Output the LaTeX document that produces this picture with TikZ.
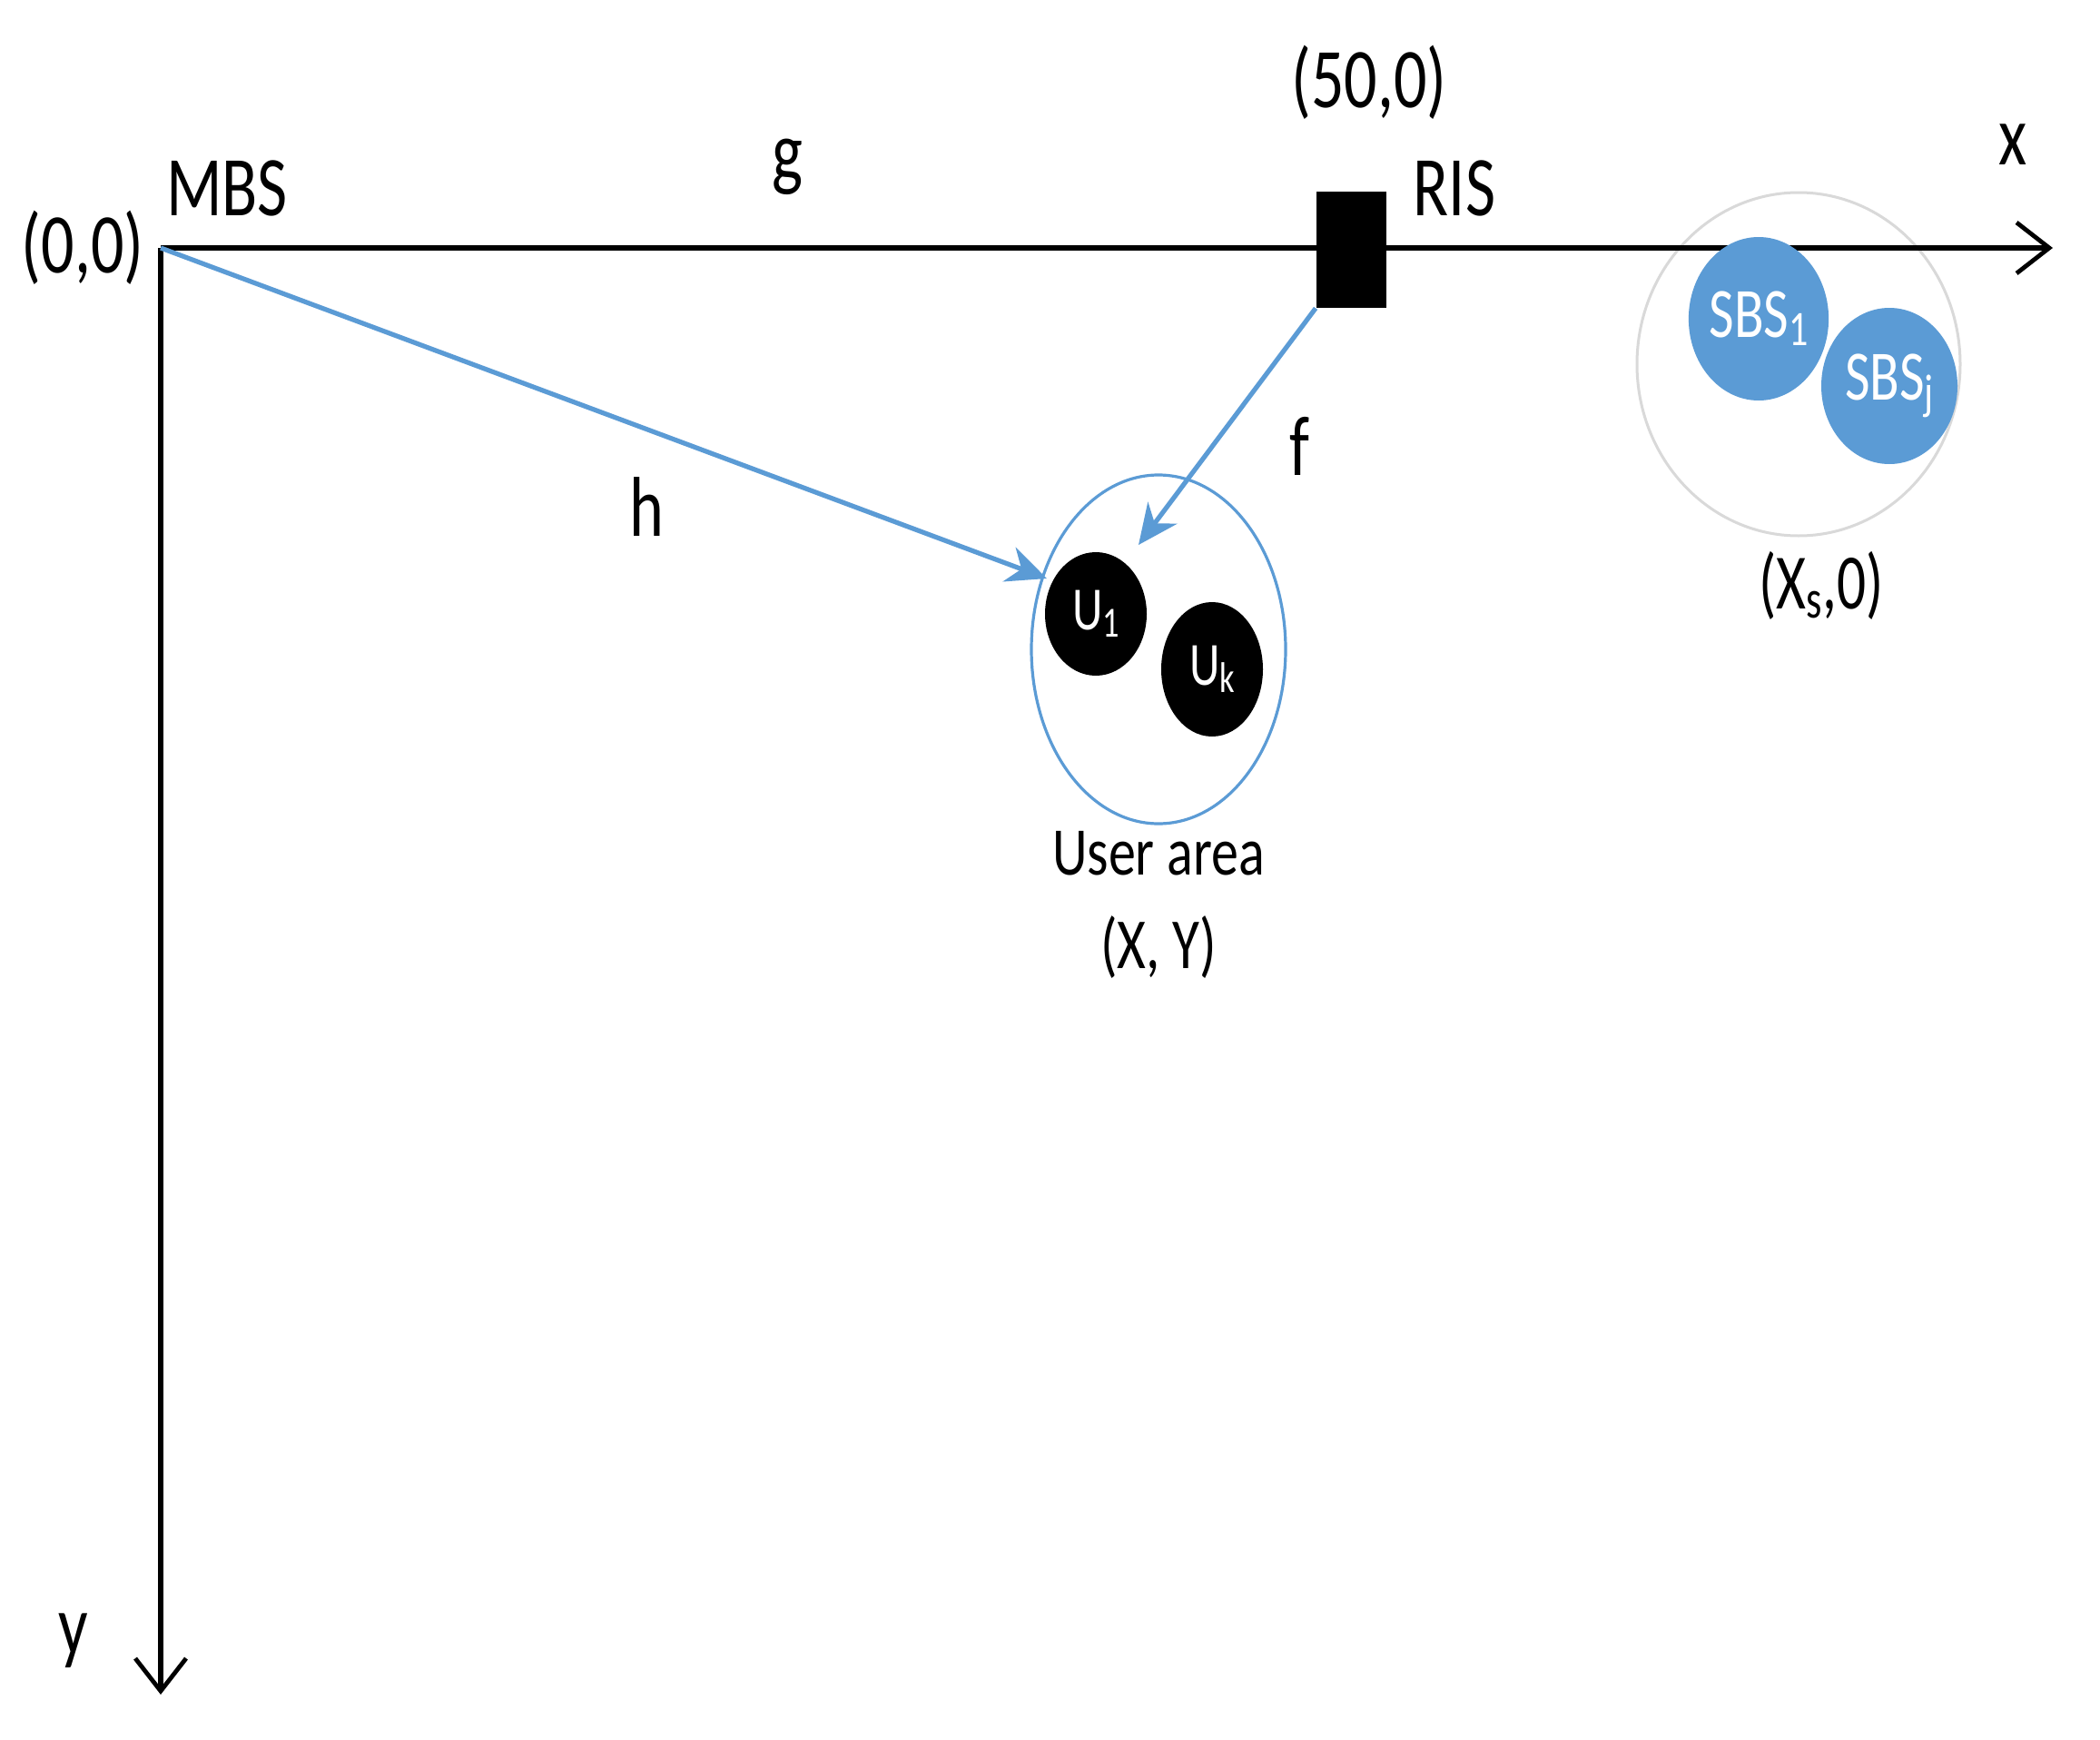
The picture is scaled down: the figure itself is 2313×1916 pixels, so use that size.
\documentclass[tikz,border=0pt]{standalone}
\usepackage{fontspec}
\setmainfont{Carlito}
\usetikzlibrary{arrows.meta,shapes.geometric}
\definecolor{offblue}{HTML}{5B9BD5}
\definecolor{lightgray}{HTML}{D9D9D9}
\newcommand\tall[1]{\scalebox{1}[1.3]{#1}}
\newcommand\lowsub[1]{\raisebox{-0.25ex}{\scalebox{0.7}{#1}}}
\tikzset{
  lbl/.style={inner sep=0pt, font=\fontsize{36}{40}\selectfont},
  smalllbl/.style={inner sep=0pt, font=\fontsize{30}{34}\selectfont},
  axis/.style={line width=2.8pt, -{Straight Barb[length=18pt,width=28pt,line width=2.4pt]}},
  link/.style={offblue, line width=2.6pt, -{Stealth[length=22pt,width=20pt]}},
  sbs/.style={ellipse, fill=offblue, text=white, inner sep=0pt, font=\fontsize{30}{34}\selectfont},
  user/.style={ellipse, fill=black, text=white, inner sep=0pt, font=\fontsize{26}{30}\selectfont},
}
\begin{document}
\begin{tikzpicture}[x=0.5pt,y=-0.5pt]
\useasboundingbox[fill=white] (0,0) rectangle (2313,1916);
% coordinates
\coordinate (O) at (177,273);
\coordinate (xend) at (2261,273);
\coordinate (yend) at (177,1866);
% region shapes
\node[ellipse, draw=lightgray, line width=1.5pt, minimum width=178pt, minimum height=189pt] (sbsarea) at (1981,401) {};
\node[ellipse, draw=offblue, line width=1.6pt, minimum width=140pt, minimum height=192pt] (userarea) at (1276,715) {};
% axes
\draw[axis] (O) -- (xend);
\draw[axis] (O) -- (yend);
% RIS
\node[fill=black, minimum width=38.5pt, minimum height=64pt, inner sep=0pt] (ris) at (1488,275) {};
% SBS
\node[sbs, minimum width=75pt, minimum height=90pt] (sbs1) at (1937,351) {\tall{SBS\lowsub{1}}};
\node[sbs, minimum width=75pt, minimum height=86pt] (sbsj) at (2081,425) {\tall{SBS\lowsub{j}}};
% users
\node[user, minimum width=56pt, minimum height=68pt] (u1) at (1207,676) {\tall{U\lowsub{1}}};
\node[user, minimum width=56pt, minimum height=74pt] (uk) at (1335,737) {\tall{U\lowsub{k}}};
% links
\coordinate (htip) at (1153,637);
\draw[link] (O) -- (htip);
\draw[link] (ris.south west) -- (1254,600) coordinate (ftip);
% labels
\node[lbl] (l00) at (91,273) {\tall{(0,0)}};
\node[lbl] (lmbs) at (250,207) {\tall{MBS}};
\node[lbl] (lg) at (867,184) {\tall{g}};
\node[lbl] (l500) at (1508,91) {\tall{(50,0)}};
\node[lbl] (lris) at (1602,207) {\tall{RIS}};
\node[lbl] (lx) at (2217,159) {\tall{x}};
\node[lbl] (lxs) at (2006,645) {\scalebox{0.88}[1.2]{(X\lowsub{s},0)}};
\node[lbl] (lh) at (712,558) {\tall{h}};
\node[lbl] (lf) at (1431,491) {\tall{f}};
\node[lbl] (ly) at (81,1807) {\tall{y}};
\node[smalllbl] (luser) at (1276,940) {\scalebox{1}[1.25]{User area}};
\node[lbl] (lXY) at (1276,1043) {\scalebox{0.85}[1.1]{(X, Y)}};
\end{tikzpicture}
\end{document}
